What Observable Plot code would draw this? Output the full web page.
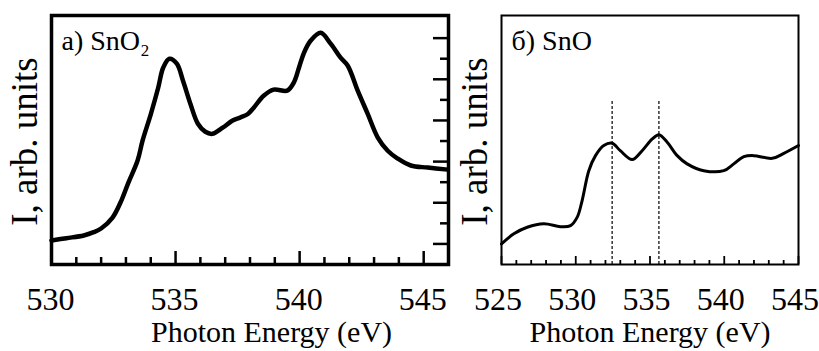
<!DOCTYPE html>
<html>
<head>
<meta charset="utf-8">
<script src="https://cdn.jsdelivr.net/npm/d3@7"></script>
<script src="https://cdn.jsdelivr.net/npm/@observablehq/plot@0.6"></script>
<style>
  html, body { margin: 0; padding: 0; background: white; overflow: hidden; }
  #row { display: flex; flex-direction: row; width: 819px; height: 351px; }
  #row svg { overflow: visible; font-family: "Liberation Serif", "Times New Roman", serif !important; }
  #row svg text { font-family: "Liberation Serif", "Times New Roman", serif !important; }
</style>
</head>
<body>
<div id="row"></div>
<script>
// ---------- Panel a) SnO2 ----------
const aEnergy = [530.0, 530.6, 531.3, 531.7, 532.0, 532.46, 532.78, 533.1, 533.47, 533.67, 534.0, 534.3, 534.5, 534.75, 535.05, 535.3, 535.6, 535.9, 536.2, 536.48, 536.9, 537.3, 537.6, 537.9, 538.15, 538.55, 538.95, 539.5, 539.76, 539.96, 540.16, 540.44, 540.85, 541.25, 541.65, 541.94, 542.34, 542.74, 543.15, 543.55, 543.95, 544.48, 545.16, 545.97];
const aIntensity = [0.17, 0.28, 0.41, 0.57, 0.75, 1.28, 2.01, 2.98, 4.05, 5.02, 6.3, 7.59, 8.56, 9.0, 8.76, 7.93, 6.8, 5.84, 5.45, 5.35, 5.65, 6.0, 6.14, 6.3, 6.62, 7.2, 7.5, 7.45, 7.83, 8.51, 9.24, 9.87, 10.26, 9.73, 9.05, 8.66, 7.45, 6.33, 5.17, 4.53, 4.15, 3.81, 3.71, 3.61];
const aXMajorTicks = [530, 535, 540, 545];
const aXMinorTicks = [531, 532, 533, 534, 536, 537, 538, 539, 541, 542, 543, 544];
const aYLongTicks = [0, 2, 4, 6, 8, 10];
const aYShortTicks = [1, 3, 5, 7, 9];
const aTitle = "a) SnO\u2082";

// ---------- Panel б) SnO ----------
const bEnergy = [525.0, 525.83, 526.73, 527.85, 528.97, 529.65, 530.1, 530.43, 530.88, 531.33, 531.89, 532.45, 533.0, 533.8, 534.47, 535.15, 535.6, 536.16, 536.83, 537.5, 538.62, 539.97, 540.64, 541.32, 541.99, 543.23, 544.01, 545.0];
const bIntensity = [0.0, 0.49, 0.81, 0.98, 0.84, 0.89, 1.30, 2.11, 3.56, 4.29, 4.78, 4.89, 4.53, 4.10, 4.53, 5.10, 5.31, 4.94, 4.29, 3.89, 3.56, 3.56, 3.89, 4.24, 4.29, 4.16, 4.40, 4.78];
const bXMajorTicks = [525, 530, 535, 540, 545];
const bXMinorTicks = [526, 527, 528, 529, 531, 532, 533, 534, 536, 537, 538, 539, 541, 542, 543, 544];
const bDashed = [532.45, 535.6];
const bTitle = "\u0431) SnO";

// shared text
const xLabel = "Photon Energy (eV)";
const yLabel = "I, arb. units";

const font = "Liberation Serif, Times New Roman, serif";
const frameTop = 15, frameBottom = 264, H = 351;
const innerH = frameBottom - frameTop;

function panel({width, marginLeft, marginRight, xDomain, energy, intensity, major, minor,
                majorLen, minorLen, tickW, frameW, lineW, title, xLabelDx, tickLabelDx, extra}) {
  const data = energy.map((x, i) => ({x, y: intensity[i]}));
  const innerW = width - marginLeft - marginRight;
  return Plot.plot({
    width, height: H,
    marginLeft, marginRight, marginTop: frameTop, marginBottom: H - frameBottom,
    x: {domain: xDomain, axis: null},
    y: {domain: [-1, 11.1], axis: null},
    style: {fontFamily: font, fontSize: "30px", color: "black", background: "white", overflow: "visible"},
    marks: [
      ...(extra ? extra(innerW) : []),
      Plot.line(data, {x: "x", y: "y", curve: "catmull-rom", stroke: "black", strokeWidth: lineW, strokeLinejoin: "round"}),
      Plot.tickX(minor, {x: d => d, insetTop: innerH - minorLen, stroke: "black", strokeWidth: tickW}),
      Plot.tickX(major, {x: d => d, insetTop: innerH - majorLen, stroke: "black", strokeWidth: tickW}),
      Plot.frame({stroke: "black", strokeWidth: frameW}),
      Plot.text(major, {x: d => d, text: d => String(d), frameAnchor: "bottom", lineAnchor: "top", dx: tickLabelDx, dy: 22.5, fontSize: 32, fontFamily: font, fill: "black", ariaLabel: "ticklabel"}),
      Plot.text([xLabel], {text: d => d, frameAnchor: "bottom", textAnchor: "middle", lineAnchor: "middle", dx: xLabelDx, dy: 67.4, fontSize: 30, fontFamily: font, fill: "black"}),
      Plot.text([yLabel], {text: d => d, frameAnchor: "left", textAnchor: "middle", lineAnchor: "middle", rotate: -90, dx: -26.4, dy: 1.5, fontSize: 37, fontFamily: font, fill: "black"}),
      Plot.text([title], {text: d => d, frameAnchor: "top-left", textAnchor: "start", lineAnchor: "top", dx: 10, dy: 15, fontSize: 28, fontFamily: font, fill: "black"})
    ]
  });
}

const chartA = panel({
  width: 460, marginLeft: 51, marginRight: 12, xDomain: [530, 546],
  energy: aEnergy, intensity: aIntensity, major: aXMajorTicks, minor: aXMinorTicks,
  majorLen: 13, minorLen: 7, tickW: 2.5, frameW: 3.5, lineW: 4.5, title: aTitle, xLabelDx: 21.5, tickLabelDx: -1,
  extra: (innerW) => [
    Plot.tickY(aYLongTicks, {y: d => d, insetLeft: innerW - 15, stroke: "black", strokeWidth: 2.5}),
    Plot.tickY(aYShortTicks, {y: d => d, insetLeft: innerW - 8, stroke: "black", strokeWidth: 2.5})
  ]
});

const chartB = panel({
  width: 359, marginLeft: 41, marginRight: 21, xDomain: [525, 545],
  energy: bEnergy, intensity: bIntensity, major: bXMajorTicks, minor: bXMinorTicks,
  majorLen: 8, minorLen: 4, tickW: 1.8, frameW: 2, lineW: 3, title: bTitle, xLabelDx: 0, tickLabelDx: -3.5,
  extra: () => [
    Plot.ruleX(bDashed, {x: d => d, insetTop: 86, stroke: "black", strokeWidth: 1.2, strokeDasharray: "3,2"})
  ]
});

const row = document.getElementById("row");
row.appendChild(chartA);
row.appendChild(chartB);

// the reference's tick numerals are set slightly condensed
document.querySelectorAll('#row g[aria-label="ticklabel"] text').forEach(t => {
  const len = t.getComputedTextLength();
  t.setAttribute("textLength", (len * 0.86).toFixed(2));
  t.setAttribute("lengthAdjust", "spacingAndGlyphs");
});
</script>
</body>
</html>
